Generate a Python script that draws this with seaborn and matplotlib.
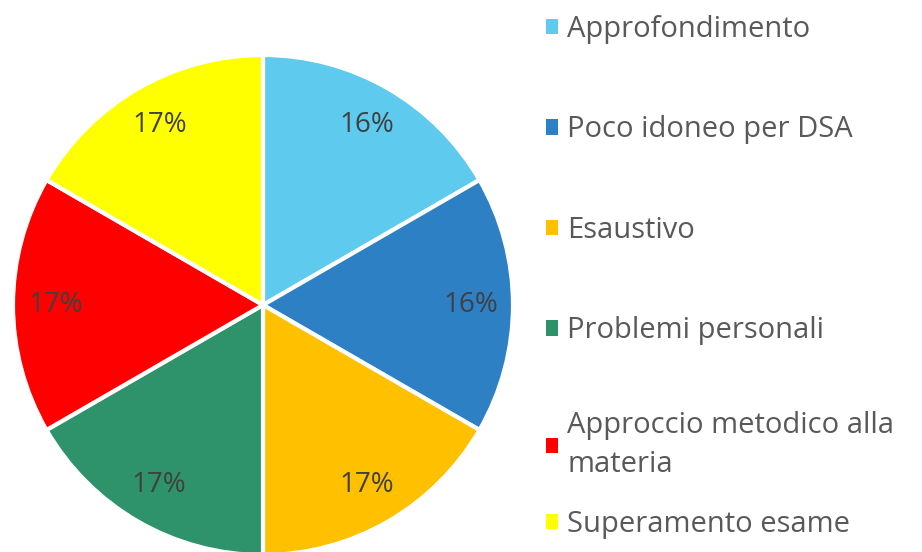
import matplotlib
matplotlib.use("Agg")
import matplotlib.pyplot as plt
from matplotlib.patches import Patch
import seaborn as sns

# data
categories = ["Approfondimento", "Poco idoneo per DSA", "Esaustivo",
              "Problemi personali", "Approccio metodico alla\nmateria",
              "Superamento esame"]
shares = [16.67, 16.67, 16.67, 16.67, 16.67, 16.67]
pct_labels = ["16%", "16%", "17%", "17%", "17%", "17%"]
colors = ["#5DCAEE", "#2E80C4", "#FFC000", "#2E936B", "#FF0000", "#FFFF00"]

sns.set_theme(style="white")
plt.rcParams["font.family"] = ["Open Sans", "DejaVu Sans"]

fig = plt.figure(figsize=(9.22, 5.52), dpi=100)
ax = fig.add_axes([13 / 922, -3 / 552, 500 / 922, 500 / 552])

wedges, texts, autotexts = ax.pie(
    shares, colors=colors, startangle=90, counterclock=False,
    autopct="%1.0f%%", pctdistance=0.83,
    wedgeprops=dict(edgecolor="white", linewidth=3),
    textprops=dict(color="#404040", fontsize=20))
for t, lab in zip(autotexts, pct_labels):
    t.set_text(lab)
ax.set_aspect("equal")
ax.set_xlim(-1, 1)
ax.set_ylim(-1, 1)
ax.axis("off")

handles = [Patch(facecolor=c, edgecolor="none") for c in colors]

common = dict(frameon=False, fontsize=21, labelcolor="#595959",
              handlelength=0.42, handleheight=0.42, handletextpad=0.3,
              borderpad=0, borderaxespad=0, loc="upper left")

leg1 = fig.legend(handles[:4], categories[:4], labelspacing=2.45,
                  bbox_to_anchor=(546 / 922, 1 - 15 / 552), **common)
leg2 = fig.legend(handles[4:], categories[4:], labelspacing=1.05,
                  bbox_to_anchor=(546 / 922, 1 - 411 / 552), **common)
for t in leg2.get_texts():
    t.set_linespacing(1.45)

plt.savefig("out.png", dpi=100)
